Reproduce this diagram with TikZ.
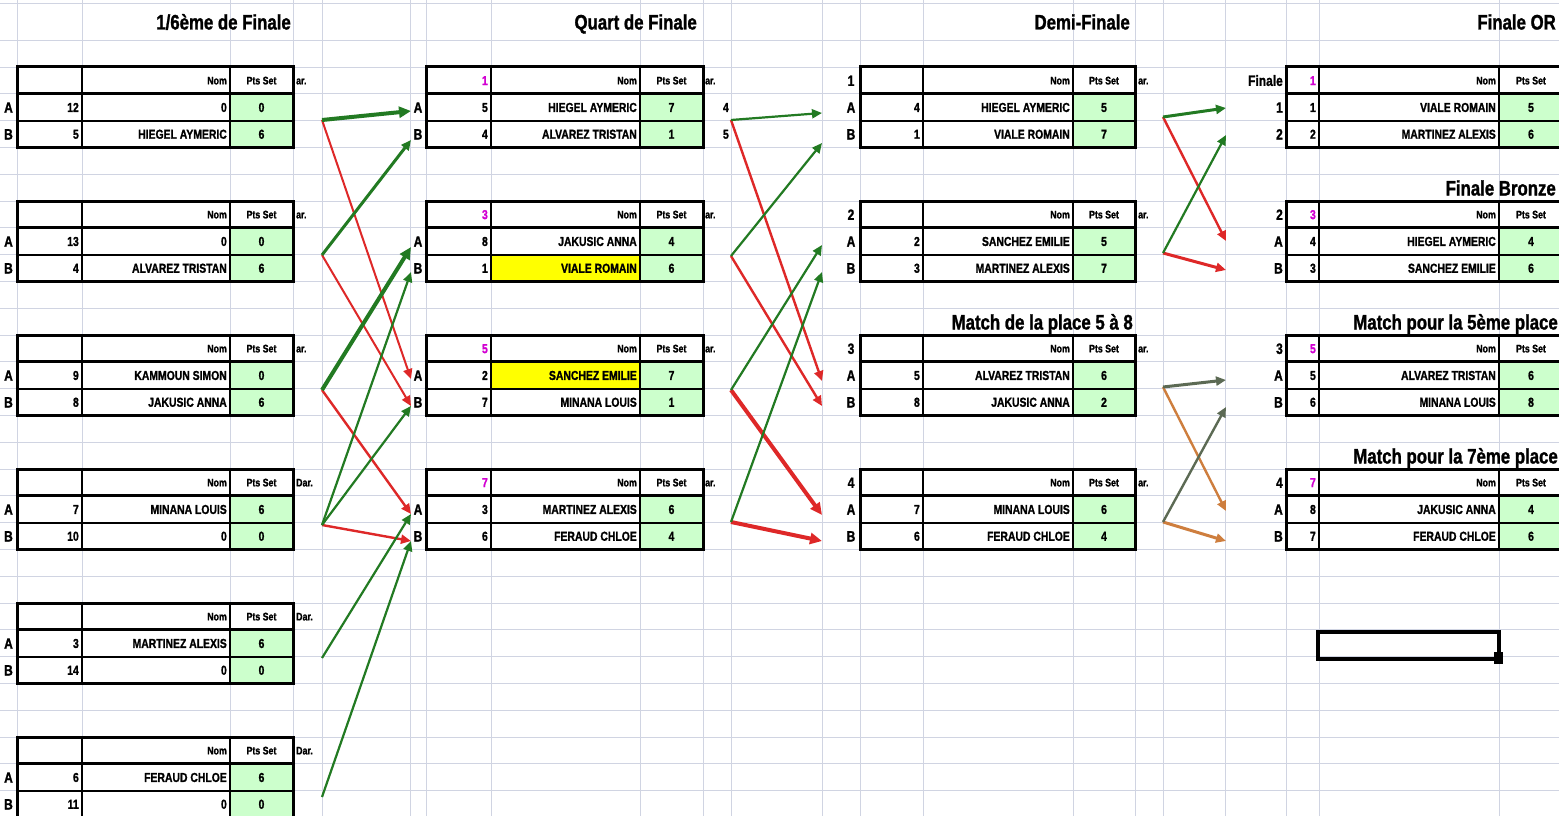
\documentclass[tikz,border=0pt]{standalone}
\usepackage{fontspec}
\newfontfamily\cellf{Liberation Sans}[FakeStretch=0.8,FakeBold=1.2]
\usetikzlibrary{arrows.meta}
\definecolor{gridc}{RGB}{208,212,226}
\definecolor{ptsg}{RGB}{204,255,204}
\definecolor{mag}{RGB}{210,0,210}
\definecolor{hlyel}{RGB}{255,255,0}
\definecolor{arrg}{RGB}{34,122,34}
\definecolor{arrr}{RGB}{222,40,40}
\definecolor{arro}{RGB}{92,106,84}
\definecolor{arror}{RGB}{206,126,62}
\tikzset{
  numtxt/.style={anchor=east,inner sep=0pt,text height=9.5pt,text depth=0pt,font=\cellf\bfseries\fontsize{13}{13}\selectfont},
  ptstxt/.style={numtxt,anchor=center},
  hdtxt/.style={anchor=east,inner sep=0pt,text height=8pt,text depth=0pt,font=\cellf\bfseries\fontsize{11}{11}\selectfont},
  avtxt/.style={hdtxt,anchor=west},
  lbl/.style={inner sep=0pt,text height=11pt,text depth=0pt,font=\cellf\bfseries\fontsize{15}{15}\selectfont},
  ttl/.style={anchor=east,inner sep=0pt,text height=15pt,text depth=0pt,font=\cellf\bfseries\fontsize{21}{21}\selectfont},
  tip/.style={-{Triangle[length=10pt,width=9pt]}},
  bigtip/.style={-{Triangle[length=12pt,width=11pt]}},
  ga/.style={tip,draw=arrg,line width=2.2pt,fill=arrg},
  gak/.style={bigtip,draw=arrg,line width=4pt,fill=arrg},
  ra/.style={tip,draw=arrr,line width=2pt,fill=arrr},
  rak/.style={bigtip,draw=arrr,line width=4pt,fill=arrr},
  oa/.style={tip,draw=arro,line width=2.4pt,fill=arro},
  ora/.style={tip,draw=arror,line width=2.4pt,fill=arror},
  gridline/.style={draw=gridc,line width=0.8pt}
}
\newcommand\grp[4]{\def\xa{#1}\def\xb{#2}\def\xc{#3}\def\xd{#4}}
\def\fA{white}\def\fB{white}
\def\ptsx{0}
\newcommand\blk[9]{%
  \fill[white] (\xa,#2) rectangle (\xd,#2+80.4);
  \fill[\fA] (\xb,#2+26.8) rectangle (\xc,#2+53.6);
  \fill[\fB] (\xb,#2+53.6) rectangle (\xc,#2+80.4);
  \fill[ptsg] (\xc,#2+26.8) rectangle (\xd,#2+80.4);
  \node[numtxt,text=mag] (#1h) at (\xb-3,#2+13.4) {#3};
  \node[hdtxt] (#1hn) at (\xc-3,#2+13.4) {Nom};
  \node[hdtxt,anchor=center] (#1hp) at ({(\xc+\xd)/2+\ptsx},#2+13.4) {Pts Set};
  \node[numtxt] (#1an) at (\xb-3,#2+40.2) {#4};
  \node[numtxt] (#1am) at (\xc-3,#2+40.2) {#5};
  \node[ptstxt] (#1ap) at ({(\xc+\xd)/2+\ptsx},#2+40.2) {#6};
  \node[numtxt] (#1bn) at (\xb-3,#2+67) {#7};
  \node[numtxt] (#1bm) at (\xc-3,#2+67) {#8};
  \node[ptstxt] (#1bp) at ({(\xc+\xd)/2+\ptsx},#2+67) {#9};
  \draw[line width=1.5pt] (\xb,#2) -- (\xb,#2+80.4) (\xc,#2) -- (\xc,#2+80.4);
  \draw[line width=2pt] (\xa,#2+53.6) -- (\xd,#2+53.6);
  \draw[line width=3pt] (\xa,#2+26.8) -- (\xd,#2+26.8);
  \draw[line width=3pt] (\xa,#2) rectangle (\xd,#2+80.4);
}
\begin{document}
\begin{tikzpicture}[x=1pt,y=-1pt]
\clip (0,0) rectangle (1559,816);
\fill[white] (0,0) rectangle (1559,816);
% grid
\foreach \gx in {17,82,230,293,322,410,426,491,640,703,731,822,860,923,1073,1135,1163,1225,1286,1319,1499}
  \draw[gridline] (\gx,0) -- (\gx,816);
\draw[gridline] (0,3) -- (1559,3) (0,40.2) -- (1559,40.2);
\foreach \k in {0,...,28}
  \draw[gridline] (0,67+26.8*\k) -- (1559,67+26.8*\k);

% titles
\node[ttl] (t1) at (291,22) {1/6ème de Finale};
\node[ttl] (t2) at (697,22) {Quart de Finale};
\node[ttl] (t3) at (1130,22) {Demi-Finale};
\node[ttl] (t4) at (1556,22) {Finale OR};
\node[ttl] (t5) at (1556,188) {Finale Bronze};
\node[ttl] (t6) at (1133,322) {Match de la place 5 à 8};
\node[ttl] (t7) at (1558,322) {Match pour la 5ème place};
\node[ttl] (t8) at (1558,456) {Match pour la 7ème place};

% group 1
\grp{17}{82}{230}{293}
\blk{ba}{67}{}{12}{0}{0}{5}{HIEGEL AYMERIC}{6}
\blk{bb}{201}{}{13}{0}{0}{4}{ALVAREZ TRISTAN}{6}
\blk{bc}{335}{}{9}{KAMMOUN SIMON}{0}{8}{JAKUSIC ANNA}{6}
\blk{bd}{469}{}{7}{MINANA LOUIS}{6}{10}{0}{0}
\blk{be}{603}{}{3}{MARTINEZ ALEXIS}{6}{14}{0}{0}
\blk{bf}{737}{}{6}{FERAUD CHLOE}{6}{11}{0}{0}
\foreach \ty/\nm in {67/a,201/b,335/c}
  \node[avtxt] (av1\nm) at (296,\ty+13.4) {ar.};
\foreach \ty/\nm in {469/d,603/e,737/f}
  \node[avtxt] (av1\nm) at (296,\ty+13.4) {Dar.};
\foreach \ty/\nm in {67/a,201/b,335/c,469/d,603/e,737/f}{
  \node[lbl] (la\nm) at (8.5,\ty+40.2) {A};
  \node[lbl] (lb\nm) at (8.5,\ty+67) {B};
}

% group 2
\grp{426}{491}{640}{703}
\blk{qa}{67}{1}{5}{HIEGEL AYMERIC}{7}{4}{ALVAREZ TRISTAN}{1}
\def\fB{hlyel}
\blk{qb}{201}{3}{8}{JAKUSIC ANNA}{4}{1}{VIALE ROMAIN}{6}
\def\fB{white}\def\fA{hlyel}
\blk{qc}{335}{5}{2}{SANCHEZ EMILIE}{7}{7}{MINANA LOUIS}{1}
\def\fA{white}
\blk{qd}{469}{7}{3}{MARTINEZ ALEXIS}{6}{6}{FERAUD CHLOE}{4}
\foreach \ty/\nm in {67/a,201/b,335/c,469/d}{
  \node[avtxt] (av2\nm) at (705,\ty+13.4) {ar.};
  \node[lbl] (qla\nm) at (418,\ty+40.2) {A};
  \node[lbl] (qlb\nm) at (418,\ty+67) {B};
}
\node[numtxt] (qax) at (729,107.2) {4};
\node[numtxt] (qbx) at (729,134) {5};

% group 3
\grp{860}{923}{1073}{1135}
\blk{da}{67}{}{4}{HIEGEL AYMERIC}{5}{1}{VIALE ROMAIN}{7}
\blk{db}{201}{}{2}{SANCHEZ EMILIE}{5}{3}{MARTINEZ ALEXIS}{7}
\blk{dc}{335}{}{5}{ALVAREZ TRISTAN}{6}{8}{JAKUSIC ANNA}{2}
\blk{dd}{469}{}{7}{MINANA LOUIS}{6}{6}{FERAUD CHLOE}{4}
\foreach \ty/\nm/\nn in {67/a/1,201/b/2,335/c/3,469/d/4}{
  \node[avtxt] (av3\nm) at (1138,\ty+13.4) {ar.};
  \node[lbl] (dl\nm) at (851,\ty+13.4) {\nn};
  \node[lbl] (dla\nm) at (851,\ty+40.2) {A};
  \node[lbl] (dlb\nm) at (851,\ty+67) {B};
}

% group 4
\grp{1286}{1319}{1499}{1615}
\def\ptsx{-26}
\blk{fa}{67}{1}{1}{VIALE ROMAIN}{5}{2}{MARTINEZ ALEXIS}{6}
\blk{fb}{201}{3}{4}{HIEGEL AYMERIC}{4}{3}{SANCHEZ EMILIE}{6}
\blk{fc}{335}{5}{5}{ALVAREZ TRISTAN}{6}{6}{MINANA LOUIS}{8}
\blk{fd}{469}{7}{8}{JAKUSIC ANNA}{4}{7}{FERAUD CHLOE}{6}
\node[lbl,anchor=east] (flh) at (1283,80.4) {Finale};
\node[lbl,anchor=east] (fl1) at (1283,107.2) {1};
\node[lbl,anchor=east] (fl2) at (1283,134) {2};
\foreach \ty/\nm/\nn in {201/b/2,335/c/3,469/d/4}{
  \node[lbl,anchor=east] (fl\nm) at (1283,\ty+13.4) {\nn};
  \node[lbl,anchor=east] (fla\nm) at (1283,\ty+40.2) {A};
  \node[lbl,anchor=east] (flb\nm) at (1283,\ty+67) {B};
}

% selected cell
\draw[line width=3.5pt] (1318,632) rectangle (1499,659);
\fill (1494,652) rectangle (1503,664);

% connectors stage 1
\coordinate (s11) at (322,120);
\coordinate (s12) at (322,255);
\coordinate (s13) at (322,390);
\coordinate (s14) at (322,525);
\coordinate (s15) at (322,658);
\coordinate (s16) at (322,797);
\coordinate (t1a) at (411,111);
\coordinate (t1b) at (411,140);
\coordinate (t2a) at (411,247);
\coordinate (t2b) at (411,272);
\coordinate (t3a) at (411,379);
\coordinate (t3b) at (411,406);
\coordinate (t4a) at (411,514);
\coordinate (t4b) at (411,541);
\draw[ra] (s11) -- (t3a);
\draw[ra] (s12) -- (t3b);
\draw[ra,line width=2.4pt] (s13) -- (t4a);
\draw[ra,line width=2.4pt] (s14) -- (t4b);
\draw[gak] (s11) -- (t1a);
\draw[ga,line width=3pt] (s12) -- (t1b);
\draw[gak] (s13) -- (t2a);
\draw[ga] (s14) -- (t2b);
\draw[ga] (s14) -- (t3b);
\draw[ga] (s15) -- (t4a);
\draw[ga] (s16) -- (t4b);

% connectors stage 2
\coordinate (s21) at (731,120);
\coordinate (s22) at (731,256);
\coordinate (s23) at (731,390);
\coordinate (s24) at (731,522);
\coordinate (u1a) at (822,113);
\coordinate (u1b) at (822,143);
\coordinate (u2a) at (822,245);
\coordinate (u2b) at (822,272);
\coordinate (u3a) at (822,381);
\coordinate (u3b) at (822,406);
\coordinate (u4a) at (822,515);
\coordinate (u4b) at (822,541);
\draw[ra,line width=2.4pt] (s21) -- (u3a);
\draw[ra,line width=2.4pt] (s22) -- (u3b);
\draw[rak] (s23) -- (u4a);
\draw[rak] (s24) -- (u4b);
\draw[ga] (s21) -- (u1a);
\draw[ga] (s22) -- (u1b);
\draw[ga] (s23) -- (u2a);
\draw[ga] (s24) -- (u2b);

% connectors stage 3
\coordinate (s31) at (1163,117);
\coordinate (s32) at (1163,253);
\coordinate (s33) at (1163,387);
\coordinate (s34) at (1163,522);
\coordinate (v1a) at (1226,108);
\coordinate (v1b) at (1226,135);
\coordinate (v2a) at (1226,241);
\coordinate (v2b) at (1226,270);
\coordinate (v3a) at (1226,380);
\coordinate (v3b) at (1226,407);
\coordinate (v4a) at (1226,511);
\coordinate (v4b) at (1226,541);
\draw[ra,line width=2.4pt] (s31) -- (v2a);
\draw[ra,line width=3pt] (s32) -- (v2b);
\draw[ga,line width=3pt] (s31) -- (v1a);
\draw[ga] (s32) -- (v1b);
\draw[ora] (s33) -- (v4a);
\draw[ora,line width=3pt] (s34) -- (v4b);
\draw[oa,line width=3pt] (s33) -- (v3a);
\draw[oa] (s34) -- (v3b);
\end{tikzpicture}
\end{document}
